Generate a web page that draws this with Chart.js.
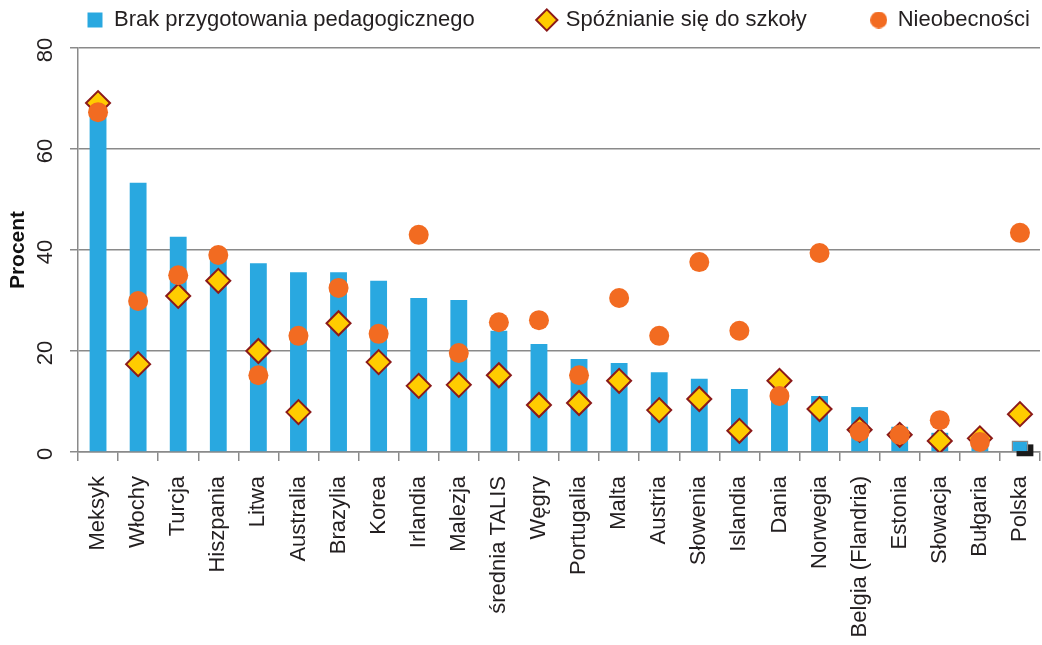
<!DOCTYPE html>
<html lang="pl">
<head>
<meta charset="UTF-8">
<title>Procent</title>
<script src="https://cdn.jsdelivr.net/npm/chart.js"></script>
<style>
    html, body { margin: 0; padding: 0; background: #fff; }
    #wrap { width: 1042px; height: 645px; position: relative; }
</style>
</head>
<body>
<div id="wrap"><canvas id="chart"></canvas></div>
<script>
    const countries = ['Meksyk', 'Włochy', 'Turcja', 'Hiszpania', 'Litwa', 'Australia', 'Brazylia', 'Korea',
        'Irlandia', 'Malezja', 'średnia TALIS', 'Węgry', 'Portugalia', 'Malta', 'Austria', 'Słowenia',
        'Islandia', 'Dania', 'Norwegia', 'Belgia (Flandria)', 'Estonia', 'Słowacja', 'Bułgaria', 'Polska'];

    // Brak przygotowania pedagogicznego
    const unprepared = [70, 53.3, 42.6, 38, 37.4, 35.6, 35.6, 33.9, 30.5, 30.1, 24.0, 21.4,
        18.4, 17.6, 15.8, 14.5, 12.5, 12, 11.1, 8.9, 5.0, 3.8, 2.6, 2.3];
    // Spóźnianie się do szkoły
    const late = [69.1, 17.4, 30.9, 33.9, 20.0, 7.9, 25.5, 17.8, 13.1, 13.3, 15.2, 9.3,
        9.7, 14.1, 8.3, 10.5, 4.2, 14.1, 8.5, 4.4, 3.4, 2.2, 2.7, 7.5];
    // Nieobecności
    const absent = [67.3, 29.9, 35.0, 39.0, 15.2, 23.0, 32.5, 23.4, 43.0, 19.6, 25.7, 26.1,
        15.2, 30.5, 23.0, 37.6, 24.0, 11.1, 39.4, 4.0, 3.4, 6.3, 2.0, 43.4];

    const yTicks = [0, 20, 40, 60, 80];

    const FONT = '"Liberation Sans", Arial, sans-serif';
    const TEXT = '#231f20';
    const AXIS = '#8a8a8a';
    const ORANGE = '#f26b21';
    const lastIdx = countries.length - 1;

    // layout of the frame (pixels)
    const PLOT_LEFT = 78, PLOT_TOP = 48, PLOT_BOTTOM = 452;
    const LEGEND_PAD = 64;

    // smaller dot for the legend entry of the circles
    const legendDot = document.createElement('canvas');
    legendDot.width = legendDot.height = 17;
    (() => {
        const c = legendDot.getContext('2d');
        c.fillStyle = ORANGE;
        c.beginPath();
        c.arc(8.5, 8.5, 8.5, 0, Math.PI * 2);
        c.fill();
    })();

    // dark shadow behind the Polska bar
    const barShadow = {
        id: 'barShadow',
        beforeDatasetDraw(chart, args) {
            if (args.index !== 0) return;
            const bar = args.meta.data[lastIdx];
            if (!bar) return;
            const { x, y, base, width } = bar.getProps(['x', 'y', 'base', 'width'], true);
            const c = chart.ctx;
            c.save();
            c.fillStyle = '#1a1a1a';
            c.fillRect(x - width / 2 + 5, y + 4, width, base - y + 1);
            c.restore();
        }
    };

    // y tick labels are rotated like the category labels
    const yLabels = {
        id: 'yLabels',
        afterDraw(chart) {
            const s = chart.scales.y;
            const c = chart.ctx;
            c.save();
            c.font = '22px ' + FONT;
            c.fillStyle = TEXT;
            c.textAlign = 'center';
            c.textBaseline = 'middle';
            yTicks.forEach(v => {
                c.save();
                c.translate(46, s.getPixelForValue(v) + 2);
                c.rotate(-Math.PI / 2);
                c.fillText(String(v), 0, 0);
                c.restore();
            });
            c.restore();
        }
    };

    // keep the legend on one row near the top edge, with wide gaps between items
    const legendPlace = {
        id: 'legendPlace',
        afterInit(chart) {
            const lg = chart.legend;
            const fit = lg.fit;
            lg.fit = function () {
                const mw = this.maxWidth;
                this.maxWidth = 5000;
                fit.call(this);
                this.maxWidth = mw;
                this.width = mw;
                this.height = PLOT_TOP;
            };
        },
        afterLayout(chart) {
            const lg = chart.legend;
            lg.top = 20 - 11 - LEGEND_PAD;
            lg.left = 87 - LEGEND_PAD;
            lg.right = 5000;
        }
    };

    new Chart(document.getElementById('chart'), {
        type: 'bar',
        data: {
            labels: countries,
            datasets: [{
                label: 'Brak przygotowania pedagogicznego',
                data: unprepared,
                backgroundColor: '#29a8e0',
                borderColor: countries.map((c, i) => i === lastIdx ? AXIS : '#29a8e0'),
                borderWidth: countries.map((c, i) => i === lastIdx ? 1.5 : 0),
                barPercentage: 0.42,
                categoryPercentage: 1,
                pointStyle: 'rect',
                order: 3
            }, {
                type: 'line',
                label: 'Spóźnianie się do szkoły',
                data: late,
                showLine: false,
                pointStyle: 'rectRot',
                pointRadius: 12,
                pointHoverRadius: 12,
                pointBackgroundColor: '#ffcc00',
                pointBorderColor: '#8b1a1a',
                pointBorderWidth: 2,
                backgroundColor: '#ffcc00',
                borderColor: '#8b1a1a',
                order: 2
            }, {
                type: 'line',
                label: 'Nieobecności',
                data: absent,
                showLine: false,
                pointStyle: 'circle',
                pointRadius: 10,
                pointHoverRadius: 10,
                pointBackgroundColor: ORANGE,
                pointBorderColor: ORANGE,
                pointBorderWidth: 0,
                backgroundColor: ORANGE,
                borderColor: ORANGE,
                order: 1
            }]
        },
        options: {
            responsive: true,
            maintainAspectRatio: false,
            animation: false,
            layout: { autoPadding: false, padding: { left: 0, right: 2, top: 0, bottom: 0 } },
            plugins: {
                tooltip: { enabled: false },
                legend: {
                    align: 'start',
                    labels: {
                        usePointStyle: true,
                        boxWidth: 16,
                        boxHeight: 15,
                        padding: LEGEND_PAD,
                        color: TEXT,
                        font: { family: FONT, size: 22 },
                        sort: (a, b) => a.datasetIndex - b.datasetIndex,
                        generateLabels: chart => {
                            const items = Chart.defaults.plugins.legend.labels.generateLabels(chart);
                            items.forEach(it => { if (it.datasetIndex === 2) it.pointStyle = legendDot; });
                            return items;
                        }
                    }
                }
            },
            scales: {
                x: {
                    offset: true,
                    afterFit: s => {
                        s.height = 645 - PLOT_BOTTOM;
                        s.paddingLeft = 0;
                        s.paddingRight = 0;
                    },
                    border: { color: AXIS, width: 1.5 },
                    grid: {
                        offset: true,
                        drawOnChartArea: false,
                        drawTicks: true,
                        tickLength: 9,
                        color: AXIS,
                        lineWidth: 1.5
                    },
                    ticks: {
                        minRotation: 90,
                        maxRotation: 90,
                        autoSkip: false,
                        color: TEXT,
                        padding: 15,
                        font: { family: FONT, size: 22 }
                    }
                },
                y: {
                    min: 0,
                    max: 80,
                    afterBuildTicks: axis => { axis.ticks = yTicks.map(v => ({ value: v })); },
                    afterFit: s => {
                        s.width = PLOT_LEFT;
                        s.paddingTop = 0;
                        s.paddingBottom = 0;
                    },
                    border: { color: AXIS, width: 1.5 },
                    grid: {
                        color: AXIS,
                        lineWidth: 1.5,
                        tickLength: 8
                    },
                    ticks: { display: false },
                    title: {
                        display: true,
                        text: 'Procent',
                        color: '#111',
                        padding: { top: 6, bottom: 0 },
                        font: { family: FONT, size: 21, weight: 'bold' }
                    }
                }
            }
        },
        plugins: [barShadow, yLabels, legendPlace]
    });
</script>
</body>
</html>
